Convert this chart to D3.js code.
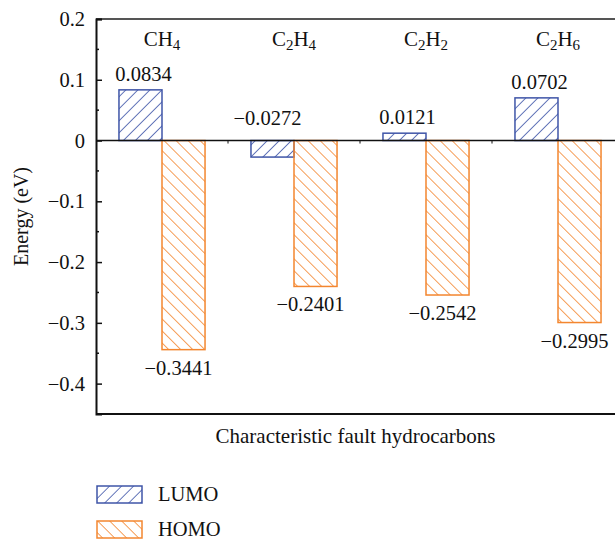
<!DOCTYPE html>
<html>
<head>
<meta charset="utf-8">
<script src="https://cdn.jsdelivr.net/npm/d3@7"></script>
<style>
  body { margin: 0; background: #fff; }
  svg text { font-family: "Liberation Serif", "DejaVu Serif", serif; fill: #111; }
</style>
</head>
<body>
<div id="chart"></div>
<script>
const categories = ['CH4', 'C2H4', 'C2H2', 'C2H6'];
const lumo = [0.0834, -0.0272, 0.0121, 0.0702];
const homo = [-0.3441, -0.2401, -0.2542, -0.2995];
const seriesNames = ['LUMO', 'HOMO'];
const yTicks = [0.2, 0.1, 0, -0.1, -0.2, -0.3, -0.4];

const W = 615, H = 541;
const margin = { left: 96, top: 19, bottom: 414 };
const blue = '#3f55a8', orange = '#f3862f';

const svg = d3.select('#chart').append('svg')
  .attr('width', W).attr('height', H);

const defs = svg.append('defs');
const hatch = (id, color, angle) => {
  const p = defs.append('pattern')
    .attr('id', id)
    .attr('patternUnits', 'userSpaceOnUse')
    .attr('width', 8.5).attr('height', 8.5)
    .attr('patternTransform', `rotate(${angle})`);
  p.append('line')
    .attr('x1', 0).attr('y1', -1).attr('x2', 0).attr('y2', 10)
    .attr('stroke', color).attr('stroke-width', 1.6);
};
hatch('hatch-lumo', blue, 45);
hatch('hatch-homo', orange, -45);

const x = d3.scaleBand()
  .domain(categories)
  .range([margin.left, margin.left + 528])
  .paddingInner(0.348)
  .paddingOuter(0.174);

const x1 = d3.scaleBand()
  .domain(seriesNames)
  .range([0, x.bandwidth()]);

const y = d3.scaleLinear()
  .domain([-0.45, 0.2])
  .range([margin.bottom, margin.top]);

// frame
svg.append('line')
  .attr('x1', margin.left).attr('x2', W)
  .attr('y1', margin.top).attr('y2', margin.top)
  .attr('stroke', '#555').attr('stroke-width', 2);
svg.append('line')
  .attr('x1', margin.left).attr('x2', W)
  .attr('y1', margin.bottom).attr('y2', margin.bottom)
  .attr('stroke', '#111').attr('stroke-width', 2);

// y axis
const yAxis = svg.append('g')
  .attr('transform', `translate(${margin.left},0)`)
  .call(d3.axisLeft(y).tickValues(yTicks).tickSize(-6).tickPadding(11)
    .tickFormat(d => d === 0 ? '0' : d3.format('.1f')(d).replace('-', '\u2212')));
yAxis.select('.domain').attr('stroke', '#111').attr('stroke-width', 2);
yAxis.selectAll('.tick line').attr('stroke', '#111').attr('stroke-width', 1.5);
yAxis.selectAll('.tick text')
  .style('font-family', '"Liberation Serif", serif')
  .style('font-size', '20.5px').attr('fill', '#111');

svg.append('g')
  .selectAll('line')
  .data(d3.range(-0.45, 0.2, 0.1).map(v => +v.toFixed(2)))
  .join('line')
  .attr('x1', margin.left).attr('x2', margin.left + 3)
  .attr('y1', d => y(d)).attr('y2', d => y(d))
  .attr('stroke', '#111').attr('stroke-width', 1.5);

// bars
const groups = svg.append('g')
  .selectAll('g')
  .data(categories)
  .join('g')
  .attr('transform', d => `translate(${x(d)},0)`);

const rows = categories.map((c, i) => [
  { cat: c, key: 'LUMO', value: lumo[i] },
  { cat: c, key: 'HOMO', value: homo[i] }
]);

groups.selectAll('rect')
  .data((d, i) => rows[i])
  .join('rect')
  .attr('x', d => x1(d.key))
  .attr('y', d => y(Math.max(0, d.value)))
  .attr('width', x1.bandwidth())
  .attr('height', d => Math.abs(y(d.value) - y(0)))
  .attr('fill', d => d.key === 'LUMO' ? 'url(#hatch-lumo)' : 'url(#hatch-homo)')
  .attr('stroke', d => d.key === 'LUMO' ? blue : orange)
  .attr('stroke-width', 1.5);

// value labels
const fmt = v => (v < 0 ? '\u2212' : '') + Math.abs(v).toFixed(4);
groups.selectAll('text.val')
  .data((d, i) => rows[i])
  .join('text')
  .attr('class', 'val')
  .attr('text-anchor', 'middle')
  .attr('x', d => x1(d.key) + x1.bandwidth() / 2 + (d.value < 0 ? -5 : 3))
  .attr('y', d => {
    if (d.key === 'LUMO') return d.value >= 0 ? y(d.value) - 9 : y(0) - 16;
    return y(d.value) + 25;
  })
  .style('font-size', '20.5px')
  .text(d => fmt(d.value));

// zero line
svg.append('line')
  .attr('x1', margin.left).attr('x2', W)
  .attr('y1', y(0)).attr('y2', y(0))
  .attr('stroke', '#111').attr('stroke-width', 1.5);

svg.append('g')
  .selectAll('line')
  .data(categories.slice(1))
  .join('line')
  .attr('x1', d => x(d) - x.step() * 0.174).attr('x2', d => x(d) - x.step() * 0.174)
  .attr('y1', y(0)).attr('y2', y(0) + 3)
  .attr('stroke', '#111');

// category labels with subscripts
const catText = svg.append('g')
  .selectAll('text')
  .data(categories)
  .join('text')
  .attr('text-anchor', 'middle')
  .attr('x', d => x(d) + x.bandwidth() / 2)
  .attr('y', 46)
  .style('font-size', '21px');
catText.each(function(d) {
  const t = d3.select(this);
  d.match(/[A-Z][a-z]?|\d+/g).forEach(part => {
    if (/\d/.test(part)) {
      t.append('tspan').attr('baseline-shift', '-25%').style('font-size', '15px').text(part);
    } else {
      t.append('tspan').text(part);
    }
  });
});

// axis titles
svg.append('text')
  .attr('transform', `translate(28,${(margin.top + margin.bottom) / 2}) rotate(-90)`)
  .attr('text-anchor', 'middle')
  .style('font-size', '20px')
  .text('Energy (eV)');

svg.append('text')
  .attr('x', (margin.left + W) / 2)
  .attr('y', 443)
  .attr('text-anchor', 'middle')
  .style('font-size', '21px')
  .text('Characteristic fault hydrocarbons');

// legend
const legend = svg.append('g')
  .selectAll('g')
  .data(seriesNames)
  .join('g')
  .attr('transform', (d, i) => `translate(97,${486 + i * 35})`);
legend.append('rect')
  .attr('width', 45).attr('height', 17)
  .attr('fill', d => d === 'LUMO' ? 'url(#hatch-lumo)' : 'url(#hatch-homo)')
  .attr('stroke', d => d === 'LUMO' ? blue : orange)
  .attr('stroke-width', 1.5);
legend.append('text')
  .attr('x', 61).attr('y', 15)
  .style('font-size', '20.5px')
  .text(d => d);
</script>
</body>
</html>
